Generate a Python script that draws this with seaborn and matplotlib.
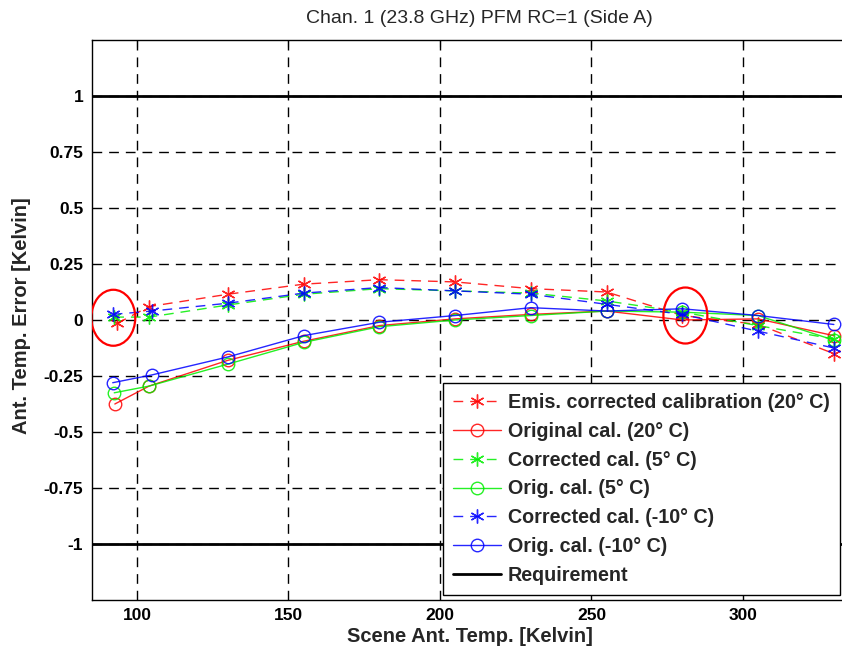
import numpy as np
import pandas as pd
import matplotlib
matplotlib.use("Agg")
import matplotlib.pyplot as plt
import seaborn as sns
from matplotlib.patches import Ellipse

# ---------------- data ----------------
title = "Chan. 1 (23.8 GHz) PFM RC=1 (Side A)"
x_label = "Scene Ant. Temp. [Kelvin]"
y_label = "Ant. Temp. Error [Kelvin]"

x_red = [93.5, 104, 130, 155, 180, 205, 230, 255, 280, 305, 330]
x_grn = [92.5, 104, 130, 155, 180, 205, 230, 255, 280, 305, 330]
x_blu = [92.0, 105, 130, 155, 180, 205, 230, 255, 280, 305, 330]
x_red_o = [92.7, 104, 130, 155, 180, 205, 230, 255, 280, 305, 330]

emis_corr_20 = [-0.015, 0.06, 0.115, 0.16, 0.18, 0.17, 0.14, 0.125, 0.02, -0.02, -0.15]
orig_20      = [-0.375, -0.295, -0.18, -0.095, -0.025, 0.005, 0.025, 0.04, 0.0, 0.005, -0.07]
corr_5       = [0.013, 0.013, 0.067, 0.115, 0.14, 0.13, 0.12, 0.085, 0.035, -0.025, -0.085]
orig_5       = [-0.325, -0.295, -0.197, -0.10, -0.03, 0.0, 0.02, 0.04, 0.035, 0.02, -0.09]
corr_m10     = [0.025, 0.04, 0.075, 0.12, 0.145, 0.13, 0.115, 0.07, 0.025, -0.05, -0.125]
orig_m10     = [-0.28, -0.245, -0.165, -0.07, -0.01, 0.02, 0.055, 0.04, 0.05, 0.02, -0.02]

requirement_levels = [1.0, -1.0]

labels = ["Emis. corrected calibration (20° C)", "Original cal. (20° C)",
          "Corrected cal. (5° C)", "Orig. cal. (5° C)",
          "Corrected cal. (-10° C)", "Orig. cal. (-10° C)", "Requirement"]

x_ticks = [100, 150, 200, 250, 300]
y_ticks = [-1, -0.75, -0.5, -0.25, 0, 0.25, 0.5, 0.75, 1]
y_ticklabels = ["-1", "-0.75", "-0.5", "-0.25", "0", "0.25", "0.5", "0.75", "1"]

highlight_x = [92.2, 281.0]
highlight_y = [0.01, 0.02]

# ---------------- plot ----------------
sns.set_style("white")
plt.rcParams['font.family'] = ['Liberation Sans', 'DejaVu Sans']

W, H = 842, 648
fig = plt.figure(figsize=(W / 100, H / 100), dpi=100)
xlim = (85, 341)
px_per_unit = 3.03
left_px, top_px, bot_px = 91.5, 40, 600
width_px = (xlim[1] - xlim[0]) * px_per_unit
height_px = bot_px - top_px
ax = fig.add_axes([left_px / W, 1 - bot_px / H, width_px / W, height_px / H])

red, green, blue = "#ff0000", "#00ee00", "#0000ff"
ast = (6, 2, 0)
dash = (0, (7, 5))

series = [
    (x_red, emis_corr_20, red, ast, dash, labels[0]),
    (x_red_o, orig_20, red, "o", "-", labels[1]),
    (x_grn, corr_5, green, ast, dash, labels[2]),
    (x_grn, orig_5, green, "o", "-", labels[3]),
    (x_blu, corr_m10, blue, ast, dash, labels[4]),
    (x_blu, orig_m10, blue, "o", "-", labels[5]),
]

for xs, ys, col, mk, ls, lab in series:
    df = pd.DataFrame({"x": xs, "y": ys})
    sns.lineplot(data=df, x="x", y="y", ax=ax, color=col, marker=mk,
                 linestyle=ls, linewidth=1.0, markersize=9 if mk == "o" else 10,
                 markerfacecolor="none", markeredgecolor=col, markeredgewidth=1.0,
                 estimator=None, sort=False, label=lab, alpha=0.85)

for i, lvl in enumerate(requirement_levels):
    ax.axhline(lvl, color="black", linewidth=2.0,
               label=labels[6] if i == 0 else None, zorder=3)

for cx, cy in zip(highlight_x, highlight_y):
    ax.add_patch(Ellipse((cx, cy), width=14.5, height=0.25, fill=False,
                         edgecolor=red, linewidth=1.6, zorder=4))

ax.set_xlim(*xlim)
ax.set_ylim(-1.25, 1.25)
ax.set_xticks(x_ticks)
ax.set_yticks(y_ticks)
ax.set_yticklabels(y_ticklabels)
ax.grid(True, color="black", linestyle=(0, (7, 5)), linewidth=1.0)
ax.tick_params(direction="in", length=5, top=True, right=True,
               labelsize=12.5, colors="black", pad=6)
for lab in ax.get_xticklabels() + ax.get_yticklabels():
    lab.set_fontweight("bold")
for sp in ax.spines.values():
    sp.set_color("black")
    sp.set_linewidth(1.0)

ax.set_xlabel(x_label, fontsize=14.5, fontweight="bold")
ax.set_ylabel(y_label, fontsize=14.5, fontweight="bold")
ax.xaxis.set_label_coords((470 - left_px) / width_px, -(636 - bot_px) / height_px)
ax.yaxis.set_label_coords(-(left_px - 22) / width_px, (bot_px - 316) / height_px)
ax.xaxis.label.set_va("center")
ax.yaxis.label.set_va("center")
ax.set_title(title, fontsize=14, pad=12)

leg = ax.legend(loc="upper left",
                bbox_to_anchor=((443 - left_px) / width_px, (bot_px - 383) / height_px),
                borderaxespad=0, fancybox=False, framealpha=1, edgecolor="black",
                prop={"weight": "bold", "size": 14.2}, handlelength=2.45,
                numpoints=1, labelspacing=0.5, borderpad=0.5, handletextpad=0.35)
leg.get_frame().set_linewidth(1.0)

fig.savefig("out.png", dpi=100)
